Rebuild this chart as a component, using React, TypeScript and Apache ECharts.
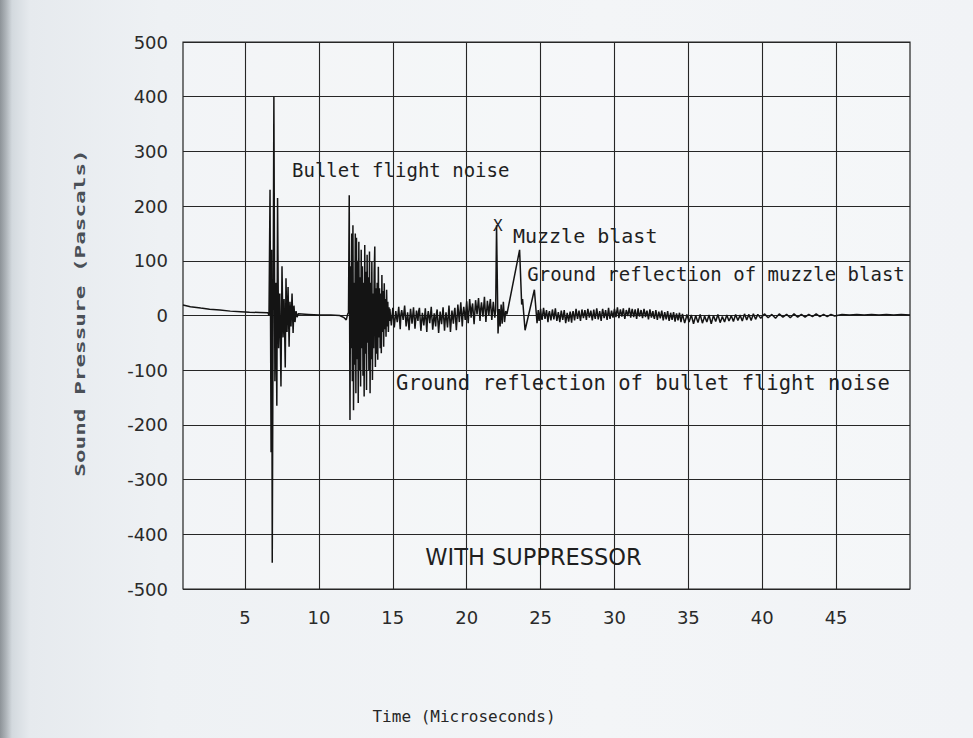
import React, { useEffect, useRef } from "react";
import * as echarts from "echarts";

type Pt = [number, number];

// Time axis tick positions (microseconds)
const xTicks = [5, 10, 15, 20, 25, 30, 35, 40, 45];

// Pressure trace, split into the recognisable phases of the shot
const baselineDrift: Pt[] = [
  [0.8, 19], [1.3, 16], [2.0, 13.5], [2.6, 11.5], [3.3, 10], [4.0, 8],
  [4.7, 7], [5.3, 6], [6.0, 5.5], [6.55, 5],
];

const firstBurst: Pt[] = [
  [6.62, 0], [6.69, 230], [6.76, -250], [6.8, 120], [6.84, -452], [6.95, 400],
  [7.02, -120], [7.09, 60], [7.15, -165], [7.2, 215], [7.27, -60], [7.35, 40],
  [7.43, -130], [7.5, 90], [7.57, -40], [7.64, 30], [7.72, -95], [7.77, 68],
  [7.84, -30], [7.91, 52], [7.98, -57], [8.04, 25], [8.11, -20], [8.18, 40],
  [8.25, -32], [8.31, 18], [8.38, -12], [8.45, 8], [8.52, -3],
];

const quietGap: Pt[] = [
  [8.6, 3], [9.3, 2], [10.0, 1], [10.8, 1], [11.4, 0], [11.7, -4],
  [11.85, -8], [11.95, 3],
];

const secondBurst: Pt[] = [
  [12.0, 5], [12.05, 220], [12.1, -191], [12.14, 90], [12.18, -60], [12.22, 150],
  [12.26, -120], [12.3, 165], [12.34, -173], [12.38, 60], [12.42, -90], [12.46, 150],
  [12.5, -142], [12.54, 142], [12.58, -80], [12.62, 100], [12.66, -160], [12.7, 135],
  [12.74, -100], [12.78, 70], [12.82, -130], [12.86, 120], [12.9, -60], [12.94, 90],
  [12.98, -110], [13.02, 60], [13.06, -148], [13.1, 129], [13.14, -70], [13.18, 80],
  [13.22, -136], [13.26, 111], [13.3, -50], [13.34, 70], [13.38, -100], [13.42, 117],
  [13.46, -142], [13.5, 60], [13.54, -80], [13.58, 98], [13.62, -118], [13.66, 40],
  [13.7, -60], [13.74, 80], [13.78, 126], [13.82, -94], [13.86, 50], [13.9, -70],
  [13.94, 60], [13.98, -81], [14.02, 89], [14.06, -40], [14.1, 50], [14.14, -60],
  [14.18, 40], [14.22, -69], [14.26, 74], [14.3, -30], [14.34, 45], [14.38, -57],
  [14.42, 59], [14.46, -25], [14.5, 30], [14.54, -39], [14.58, 47], [14.62, -20],
  [14.66, 25], [14.7, -30], [14.74, 15], [14.78, -10],
];

const flightNoiseReflection: Pt[] = [
  [14.8, 12], [14.9, -18], [15.0, 14], [15.05, -6], [15.1, -22], [15.2, 8], [15.3, -12],
  [15.4, 16], [15.5, -25], [15.55, 2], [15.6, 10], [15.7, -8], [15.8, 18], [15.9, -20],
  [16.0, 6], [16.1, -27], [16.15, -4], [16.2, 12], [16.3, -15], [16.4, 15], [16.5, -24],
  [16.6, 9], [16.7, -10], [16.75, 8], [16.8, 14], [16.9, -28], [17.0, 5], [17.1, -18],
  [17.2, 13], [17.3, -30], [17.35, -2], [17.4, 8], [17.5, -14], [17.6, 16], [17.7, -26],
  [17.8, 4], [17.9, -20], [17.95, 3], [18.0, 11], [18.1, -32], [18.2, 7], [18.3, -16],
  [18.4, 15], [18.5, -28], [18.55, -6], [18.6, 6], [18.7, -22], [18.8, 18], [18.9, -30],
  [19.0, 9], [19.1, -15], [19.15, 5], [19.2, 14], [19.3, -27], [19.4, 20], [19.5, -12],
  [19.6, 24], [19.7, -20], [19.75, 4], [19.8, 16], [19.9, -8], [20.0, 26], [20.1, -14],
  [20.2, 30], [20.3, -4], [20.35, 14], [20.4, 22], [20.5, -16], [20.6, 28], [20.7, 2],
  [20.8, 32], [20.9, -10], [20.95, 12], [21.0, 24], [21.1, -2], [21.2, 34], [21.3, -12],
  [21.4, 27], [21.5, 0], [21.55, 18], [21.6, 30], [21.7, -8], [21.8, 25], [21.9, -4],
  [21.96, 10],
];

const muzzleBlast: Pt[] = [
  [22.02, 165], [22.12, -33], [22.2, 12], [22.26, -20], [22.33, 20], [22.4, -15],
  [22.48, 25], [22.56, -12], [22.64, 8], [22.72, 2], [23.58, 120], [23.72, 20],
  [23.78, 30], [23.95, -27], [24.58, 47], [24.76, -14], [24.84, 10],
];

const decayTail: Pt[] = [
  [24.9, -10], [25.0, 12], [25.05, -2], [25.1, -8], [25.2, 14], [25.3, -6], [25.4, 10],
  [25.5, -12], [25.55, 3], [25.6, 8], [25.7, -9], [25.8, 11], [25.9, -7], [26.0, 13],
  [26.05, 1], [26.1, -10], [26.2, 6], [26.3, -12], [26.4, 9], [26.5, -8], [26.6, 10],
  [26.65, -3], [26.7, -14], [26.8, 5], [26.9, -11], [27.0, 7], [27.1, -13], [27.15, 2],
  [27.2, 8], [27.3, -9], [27.4, 12], [27.5, -6], [27.6, 9], [27.65, -1], [27.7, -10],
  [27.8, 11], [27.9, -5], [28.0, 10], [28.1, -8], [28.15, 4], [28.2, 12], [28.3, -4],
  [28.4, 9], [28.5, -9], [28.6, 11], [28.65, 0], [28.7, -6], [28.8, 13], [28.9, -7],
  [29.0, 8], [29.1, -10], [29.15, 3], [29.2, 12], [29.3, -5], [29.4, 10], [29.5, -8],
  [29.6, 14], [29.65, 2], [29.7, -6], [29.8, 9], [29.9, -4], [30.0, 12], [30.1, -3],
  [30.15, 6], [30.2, 15], [30.3, -5], [30.4, 11], [30.5, -2], [30.6, 13], [30.65, 3],
  [30.7, -6], [30.8, 10], [30.9, -1], [31.0, 14], [31.1, -4], [31.15, 5], [31.2, 12],
  [31.3, -3], [31.4, 11], [31.5, -6], [31.6, 13], [31.65, 2], [31.7, -2], [31.8, 10],
  [31.9, -5], [32.0, 12], [32.1, -3], [32.15, 4], [32.2, 9], [32.3, -7], [32.4, 11],
  [32.5, -4], [32.6, 8], [32.65, -1], [32.7, -6], [32.8, 10], [32.9, -8], [33.0, 7],
  [33.1, -5], [33.15, 2], [33.2, 9], [33.3, -9], [33.4, 6], [33.5, -7], [33.6, 8],
  [33.65, -2], [33.7, -10], [33.8, 5], [33.9, -8], [34.0, 6], [34.1, -11], [34.15, -3],
  [34.2, 4], [34.3, -9], [34.4, 5], [34.5, -12], [34.6, 3],
  [34.75, -14], [34.85, -4], [34.9, 2], [35.05, -12], [35.2, 1], [35.35, -15], [35.45, -5],
  [35.5, 0], [35.65, -13], [35.8, 2], [35.95, -14], [36.05, -6], [36.1, -1], [36.25, -12],
  [36.4, 1], [36.55, -15], [36.65, -5], [36.7, 0], [36.85, -11], [37.0, 2], [37.15, -13],
  [37.25, -6], [37.3, -2], [37.45, -12], [37.6, 1], [37.75, -10], [37.85, -4], [37.9, 0],
  [38.05, -11], [38.2, 2], [38.35, -9], [38.45, -3], [38.5, 1], [38.65, -10], [38.8, 3],
  [38.95, -8], [39.1, 2], [39.25, -9], [39.4, 3], [39.55, -7], [39.7, 2],
  [39.9, -5], [40.15, 3], [40.4, -4], [40.65, 2], [40.9, -5], [41.15, 3], [41.4, -3],
  [41.65, 2], [41.9, -4], [42.15, 3], [42.4, -3], [42.65, 2], [42.9, -3], [43.15, 2],
  [43.4, -2], [43.65, 3], [43.9, -2], [44.15, 2], [44.4, -2], [44.65, 2], [44.9, -1],
  [45.4, 2], [45.9, 1], [46.4, 2], [46.9, 1], [47.4, 2], [47.9, 1], [48.4, 2],
  [48.9, 1], [49.4, 2], [50.0, 1],
];

// Annotations anchored in data space (time, pressure)
const notes = [
  { key: "flight", text: "Bullet flight noise", at: [8.18, 266] as Pt },
  { key: "blast", text: "Muzzle blast", at: [23.13, 145] as Pt },
  { key: "blastEcho", text: "Ground reflection of muzzle blast", at: [24.1, 76] as Pt },
  { key: "flightEcho", text: "Ground reflection of bullet flight noise", at: [15.22, -124] as Pt },
  { key: "caption", text: "WITH SUPPRESSOR", at: [17.2, -441] as Pt },
];
const peakMarker = { text: "X", at: [22.1, 165] as Pt };

const INK = "#141414";
const MONO = '"DejaVu Sans Mono", monospace';
const SANS = '"DejaVu Sans", sans-serif';

const noteFont: Record<string, { size: number; family: string }> = {
  flight: { size: 19, family: MONO },
  blast: { size: 20, family: MONO },
  blastEcho: { size: 19, family: MONO },
  flightEcho: { size: 20.5, family: MONO },
  caption: { size: 22.5, family: SANS },
};

export default function App() {
  const ref = useRef<HTMLDivElement>(null);

  useEffect(() => {
    if (!ref.current) return;
    const chart = echarts.init(ref.current, undefined, { renderer: "svg" });
    const trace: Pt[] = [
      ...baselineDrift,
      ...firstBurst,
      ...quietGap,
      ...secondBurst,
      ...flightNoiseReflection,
      ...muzzleBlast,
      ...decayTail,
    ];

    const markData: any[] = notes.map((n) => ({
      coord: n.at,
      symbolSize: 0,
      label: {
        show: true,
        position: "inside",
        align: "left",
        verticalAlign: "middle",
        formatter: n.text,
        fontFamily: noteFont[n.key].family,
        fontSize: noteFont[n.key].size,
        color: "#1f1f1f",
      },
    }));
    markData.push({
      coord: peakMarker.at,
      symbolSize: 0,
      label: {
        show: true,
        position: "inside",
        align: "center",
        verticalAlign: "middle",
        formatter: peakMarker.text,
        fontFamily: MONO,
        fontSize: 16,
        color: "#1f1f1f",
      },
    });

    chart.setOption({
      animation: false,
      backgroundColor: "transparent",
      grid: {
        left: 183,
        right: 63,
        top: 42,
        bottom: 149,
        show: true,
        borderColor: "#222",
        borderWidth: 1.2,
        backgroundColor: "rgba(255,255,255,0.25)",
      },
      xAxis: {
        type: "value",
        min: 0.8,
        max: 50,
        axisLine: { show: false },
        axisTick: { show: false, customValues: xTicks },
        axisLabel: {
          customValues: xTicks,
          color: "#2a2a2a",
          fontFamily: SANS,
          fontSize: 18,
          margin: 19,
        },
        splitLine: { show: true, lineStyle: { color: "#262626", width: 1.1 } },
      },
      yAxis: {
        type: "value",
        min: -500,
        max: 500,
        interval: 100,
        axisLine: { show: false },
        axisTick: { show: false },
        axisLabel: {
          color: "#2a2a2a",
          fontFamily: SANS,
          fontSize: 18,
          margin: 15,
        },
        splitLine: { show: true, lineStyle: { color: "#262626", width: 1.1 } },
      },
      graphic: [
        {
          type: "text",
          x: 80,
          y: 313,
          rotation: Math.PI / 2,
          scaleX: 1.62,
          style: {
            text: "Sound Pressure (Pascals)",
            font: `bold 14px ${MONO}`,
            fill: "#4a5057",
            align: "center",
            verticalAlign: "middle",
          },
        },
        {
          type: "text",
          x: 464,
          y: 716,
          style: {
            text: "Time (Microseconds)",
            font: `16px ${MONO}`,
            fill: "#262626",
            align: "center",
            verticalAlign: "middle",
          },
        },
      ],
      series: [
        {
          type: "line",
          data: trace,
          showSymbol: false,
          symbol: "none",
          lineStyle: { color: INK, width: 1.5 },
          markPoint: {
            symbol: "circle",
            itemStyle: { color: "transparent" },
            data: markData,
          },
        },
      ],
    });

    return () => chart.dispose();
  }, []);

  return (
    <div
      style={{
        position: "fixed",
        left: 0,
        top: 0,
        width: 973,
        height: 738,
        background:
          "linear-gradient(to right, #8d9398 0px, #aeb4b9 6px, #d3d9de 12px, #e6eaee 30px, #eef1f4 160px, #f3f5f7 600px, #f1f3f6 100%)",
      }}
    >
      <div ref={ref} style={{ width: 973, height: 738 }} />
    </div>
  );
}
